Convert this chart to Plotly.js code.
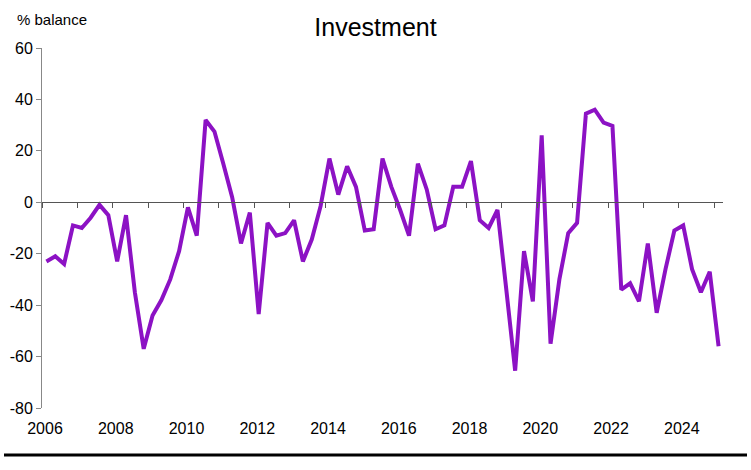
<!DOCTYPE html>
<html>
<head>
<meta charset="utf-8">
<script src="https://cdn.plot.ly/plotly-3.0.1.min.js"></script>
<style>
  html, body { margin: 0; padding: 0; background: #ffffff; }
  #chart { width: 751px; height: 470px; }
</style>
</head>
<body>
<div id="chart"></div>
<script>
// Quarterly series, 2006 Q1 – 2025 Q1
const startYear = 2006;
const investment = [
  -23, -21, -24, -9,      // 2006
  -10, -6, -1, -5,        // 2007
  -23, -5, -35, -57,      // 2008
  -44, -38, -30, -19,     // 2009
  -2, -13, 32, 27.5,      // 2010
  15, 2, -16, -4,         // 2011
  -43.5, -8, -13, -12,    // 2012
  -7, -23, -14.5, -1.5,   // 2013
  17, 3, 14, 6,           // 2014
  -11, -10.5, 17, 6,      // 2015
  -3, -13, 15, 5,         // 2016
  -10.5, -9, 6, 6,        // 2017
  16, -7, -10, -3,        // 2018
  -34, -65.5, -19, -38.5, // 2019
  26, -55, -30, -12,      // 2020
  -8, 34.5, 36, 31,       // 2021
  29.7, -34, -31.5, -38.5,// 2022
  -16, -43, -26, -11,     // 2023
  -9, -26, -35, -27,      // 2024
  -56                     // 2025
];
const quarterLabels = investment.map((_, i) => (startYear + Math.floor(i / 4)) + ' Q' + (i % 4 + 1));
const quarterPos = investment.map((_, i) => startYear + Math.floor(i / 4) + ((i % 4) + 0.5) / 4);

const labelYears = [2006, 2008, 2010, 2012, 2014, 2016, 2018, 2020, 2022, 2024];
const tickYears = [2006, 2007, 2008, 2009, 2010, 2011, 2012, 2013, 2014, 2015, 2016, 2017, 2018, 2019, 2020, 2021, 2022, 2023, 2024, 2025];
const yTicks = [-80, -60, -40, -20, 0, 20, 40, 60];

const FONT = 'Liberation Sans, Arial, Helvetica, sans-serif';
const xRange = [2006, 2025.25];
const yRange = [-80, 60];

// invisible copy on the zero-crossing axis so that axis gets drawn
const axisCarrier = {
  x: quarterPos,
  y: investment,
  type: 'scatter',
  mode: 'lines',
  line: { color: 'rgba(0,0,0,0)', width: 0 },
  hoverinfo: 'skip',
  xaxis: 'x2',
  yaxis: 'y'
};

const trace = {
  x: quarterPos,
  y: investment,
  text: quarterLabels,
  type: 'scatter',
  mode: 'lines',
  line: { color: '#8C12C4', width: 4, shape: 'linear' },
  hoverinfo: 'text+y',
  xaxis: 'x',
  yaxis: 'y'
};

const layout = {
  width: 751,
  height: 470,
  margin: { l: 42, r: 28, t: 48, b: 62 },
  paper_bgcolor: '#ffffff',
  plot_bgcolor: '#ffffff',
  showlegend: false,
  font: { family: FONT, size: 16, color: '#000000' },
  title: {
    text: 'Investment',
    font: { family: FONT, size: 25, color: '#000000' },
    x: 0.5, xanchor: 'center',
    y: 1 - 27 / 470, yanchor: 'middle', yref: 'container'
  },
  xaxis: {
    range: xRange,
    tickmode: 'array',
    tickvals: labelYears,
    ticktext: labelYears.map(String),
    ticks: '',
    showline: false,
    showgrid: false,
    zeroline: false,
    tickfont: { family: FONT, size: 16, color: '#000000' },
    ticklabelshift: 3,
    ticklabelstandoff: 9,
    fixedrange: true
  },
  xaxis2: {
    overlaying: 'x',
    range: xRange,
    anchor: 'free',
    position: (0 - yRange[0]) / (yRange[1] - yRange[0]),
    side: 'bottom',
    tickmode: 'array',
    tickvals: tickYears,
    ticks: 'outside',
    ticklen: 5,
    tickwidth: 1,
    tickcolor: '#555555',
    showticklabels: false,
    showline: true,
    linecolor: '#555555',
    linewidth: 1,
    showgrid: false,
    zeroline: false,
    fixedrange: true
  },
  yaxis: {
    range: yRange,
    tickmode: 'array',
    tickvals: yTicks,
    ticktext: yTicks.map(String),
    ticks: 'outside',
    ticklen: 5,
    tickwidth: 1,
    tickcolor: '#888888',
    showline: true,
    linecolor: '#888888',
    linewidth: 1,
    showgrid: false,
    zeroline: false,
    tickfont: { family: FONT, size: 16, color: '#000000' },
    fixedrange: true
  },
  annotations: [{
    text: '% balance',
    xref: 'paper', yref: 'paper',
    x: (15 - 42) / 681, y: 1 + (48 - 19) / 360,
    xanchor: 'left', yanchor: 'middle',
    showarrow: false,
    font: { family: FONT, size: 15, color: '#000000' }
  }],
  shapes: [{
    type: 'line',
    xref: 'paper', yref: 'paper',
    x0: (4 - 42) / 681, x1: (747 - 42) / 681,
    y0: -(455 - 408) / 360, y1: -(455 - 408) / 360,
    line: { color: '#000000', width: 3 }
  }]
};

Plotly.newPlot('chart', [axisCarrier, trace], layout, { displayModeBar: false, staticPlot: true });
</script>
</body>
</html>
